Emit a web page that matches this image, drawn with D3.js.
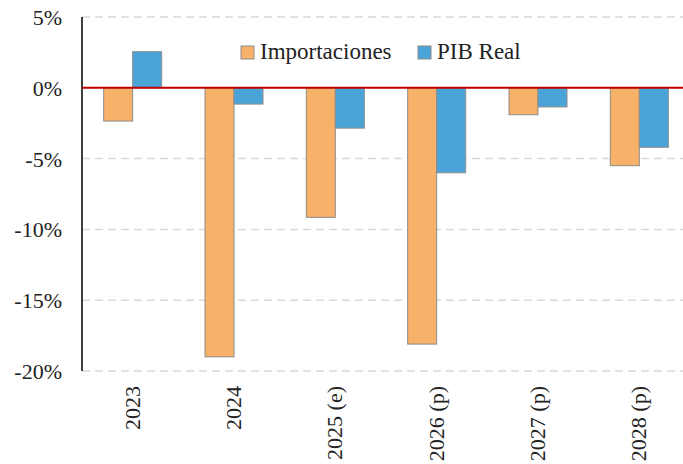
<!DOCTYPE html>
<html lang="es">
<head>
<meta charset="UTF-8">
<title>Importaciones y PIB Real</title>
<script src="https://cdn.jsdelivr.net/npm/d3@7"></script>
<style>
  body { margin: 0; background: #fff; }
</style>
</head>
<body>
<script>
// data
const years = ["2023", "2024", "2025 (e)", "2026 (p)", "2027 (p)", "2028 (p)"]
const importaciones = [-2.35, -19.0, -9.15, -18.1, -1.9, -5.5]
const pibReal = [2.55, -1.15, -2.85, -6.0, -1.35, -4.2]
const yTicks = [5, 0, -5, -10, -15, -20]
const seriesNames = ["Importaciones", "PIB Real"]
const seriesColors = ["#f8b168", "#4ba4d8"]

const font = "'Liberation Serif', serif"
const w = 683, h = 464
const plotL = 82, plotR = 690, plotT = 17, plotB = 371

const svg = d3.select("body").append("svg").attr("width", w).attr("height", h)

const x = d3.scaleBand().domain(years).range([plotL, plotR])
const y = d3.scaleLinear().domain([-20, 5]).range([plotB, plotT])
const barW = 29

// grid
svg.append("g")
  .selectAll("line")
  .data(yTicks.filter(d => d !== 0))
  .enter().append("line")
  .attr("x1", plotL).attr("x2", w)
  .attr("y1", d => y(d)).attr("y2", d => y(d))
  .attr("stroke", "#d9d9d9")
  .attr("stroke-width", 1.5)
  .attr("stroke-dasharray", "8,5")

// y axis labels
const yAxis = d3.axisLeft(y).tickValues(yTicks).tickSize(0).tickPadding(20)
  .tickFormat(d => d + "%")
const yg = svg.append("g").attr("transform", `translate(${plotL},0)`).call(yAxis)
yg.select(".domain").remove()
yg.attr("font-family", null).attr("font-size", null)
yg.selectAll("text")
  .style("font-family", font)
  .style("font-size", "22px")
  .attr("fill", "#222")
  .attr("dy", "0.34em")

// bars
const rows = years.map((yr, i) => ({ yr, vals: [importaciones[i], pibReal[i]] }))
rows.forEach(r => {
  r.vals.forEach((v, j) => {
    const cx = x(r.yr) + x.bandwidth() / 2
    svg.append("rect")
      .attr("x", cx - barW + j * barW)
      .attr("y", Math.min(y(v), y(0)))
      .attr("width", barW)
      .attr("height", Math.abs(y(v) - y(0)))
      .attr("fill", seriesColors[j])
      .attr("stroke", "#8c8c8c")
      .attr("stroke-width", 1)
  })
})

// left axis line
svg.append("line")
  .attr("x1", plotL).attr("x2", plotL)
  .attr("y1", y(5)).attr("y2", y(-20))
  .attr("stroke", "#000").attr("stroke-width", 1.5)

// zero line
svg.append("line")
  .attr("x1", plotL).attr("x2", w)
  .attr("y1", y(0)).attr("y2", y(0))
  .attr("stroke", "#c00000").attr("stroke-width", 2)

// x labels, rotated
svg.append("g")
  .selectAll("text")
  .data(years)
  .enter().append("text")
  .attr("transform", d => `translate(${x(d) + x.bandwidth() / 2 + 7},${plotB + 15}) rotate(-90)`)
  .attr("text-anchor", "end")
  .attr("fill", "#222")
  .style("font-family", font)
  .style("font-size", "22px")
  .text(d => d)

// legend
const legend = svg.append("g")
const legendX = [241, 418]
seriesNames.forEach((name, i) => {
  legend.append("rect")
    .attr("x", legendX[i]).attr("y", 46)
    .attr("width", 13).attr("height", 13)
    .attr("fill", seriesColors[i])
    .attr("stroke", "#8c8c8c").attr("stroke-width", 1)
  legend.append("text")
    .attr("x", legendX[i] + 19).attr("y", 59)
    .attr("fill", "#222")
    .style("font-family", font)
    .style("font-size", "23px")
    .text(name)
})
</script>
</body>
</html>
